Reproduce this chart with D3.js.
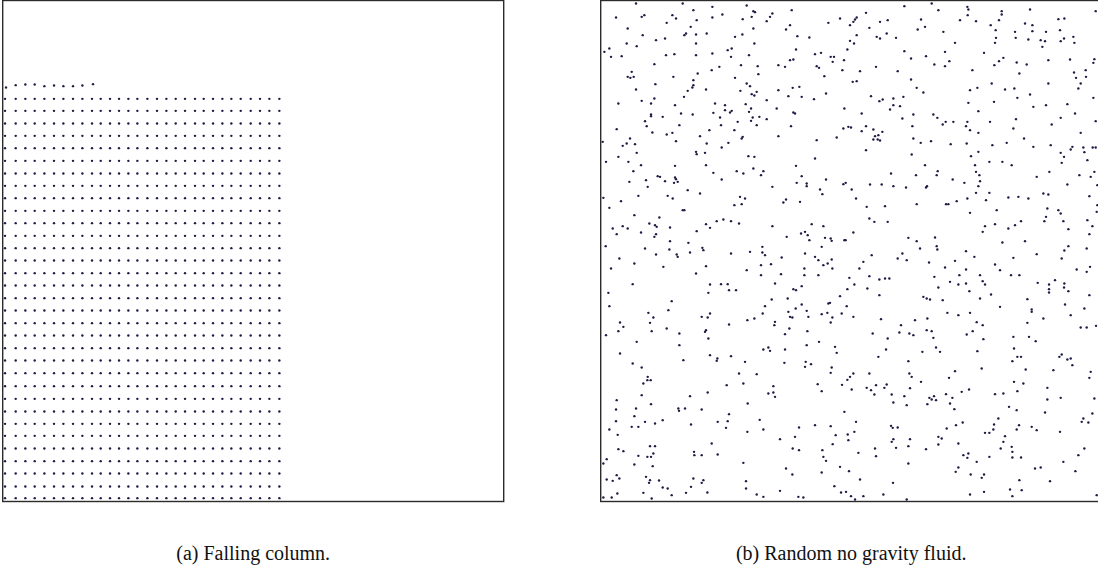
<!DOCTYPE html>
<html>
<head>
<meta charset="utf-8">
<script src="https://cdn.jsdelivr.net/npm/d3@7"></script>
<style>
  html, body { margin: 0; padding: 0; background: #ffffff; }
  svg { display: block; }
</style>
</head>
<body>
<svg id="chart" width="1098" height="574"></svg>
<script>
// ---------- DATA (box units: each simulation box is 0..1503 wide and tall, y measured from the top) ----------
const BOX = 1503;

// (a) Falling column: lattice of particles
const columnX = [7,39,68,96,125,154,182,211,239,268,294,322,349,377,404,434,463,491,519,547,577,603,631,659,686,714,744,772,800,830];
const columnRowY = [295,331,369,406,443,481,519,556,593,631,668,706,743,780,818,855,893,930,968,1005,1043,1080,1118,1157,1195,1233,1270,1306,1344,1382,1419,1458,1493];
// partial top row of the column
const topRowX = [10,39,68,96,125,154,182,211,239,271];
const topRowY = [261,254,252,252,257,255,257,257,255,251];

// (b) Random no gravity fluid: particle positions [x, y]
const fluidPts = [
[106,9],[246,9],[335,19],[438,15],[278,29],[458,32],[463,35],[573,29],[46,51],[123,49],[131,44],[215,44],[226,54],[288,59],[335,51],[365,42],[426,56],[453,49],[498,62],[508,49],[515,39],[718,54],[683,67],[198,67],[81,84],[270,79],[556,87],[568,74],[458,84],[126,104],[251,104],[256,99],[286,102],[318,99],[403,109],[425,102],[590,107],[626,111],[166,119],[193,114],[78,129],[108,137],[286,129],[461,129],[11,154],[26,144],[31,169],[63,167],[196,164],[221,161],[286,164],[335,159],[381,149],[393,144],[391,169],[445,164],[586,147],[643,161],[661,157],[690,169],[700,169],[740,147],[568,179],[578,177],[696,184],[730,179],[161,191],[333,209],[356,199],[421,194],[471,197],[533,194],[553,199],[648,197],[655,202],[725,209],[93,214],[81,229],[89,232],[99,229],[218,229],[291,219],[278,239],[403,232],[473,221],[671,227],[164,251],[278,254],[275,261],[438,249],[448,257],[106,267],[261,271],[316,267],[419,271],[468,274],[453,281],[461,285],[533,269],[576,262],[596,259],[676,279],[250,289],[563,287],[603,289],[640,296],[161,294],[123,301],[498,299],[53,309],[151,309],[223,314],[343,309],[373,314],[435,311],[451,324],[373,329],[388,336],[393,331],[338,337],[528,324],[731,324],[241,339],[276,342],[151,342],[151,347],[186,349],[358,351],[445,334],[456,351],[476,349],[498,356],[578,336],[583,339],[133,362],[411,364],[451,361],[138,377],[236,374],[361,374],[468,374],[571,377],[728,384],[743,379],[48,386],[155,396],[198,402],[215,397],[326,389],[401,389],[426,409],[423,414],[298,407],[533,407],[708,411],[88,414],[78,429],[103,431],[66,436],[6,424],[226,422],[383,427],[318,429],[648,419],[363,441],[108,457],[286,454],[288,461],[313,457],[443,467],[461,469],[643,474],[53,469],[16,484],[83,484],[121,494],[223,496],[316,494],[458,504],[586,496],
[911,17],[993,9],[1100,19],[1103,27],[1013,29],[1203,32],[1203,42],[1288,27],[1485,32],[796,37],[768,51],[763,57],[758,64],[748,74],[1101,44],[1078,59],[1126,62],[961,57],[838,64],[861,59],[1195,59],[1273,69],[1295,74],[1373,56],[1391,54],[806,82],[973,79],[951,87],[1170,74],[1185,89],[1295,92],[1336,94],[1378,89],[768,104],[828,109],[838,114],[858,99],[886,112],[1028,94],[1243,94],[1245,112],[1283,117],[1186,112],[1183,127],[1320,119],[1333,122],[1325,139],[1380,122],[1390,114],[1418,109],[1421,127],[748,121],[760,129],[1063,127],[1150,157],[911,152],[1033,154],[931,174],[976,167],[1046,182],[1001,192],[1033,197],[1181,194],[1195,182],[1208,172],[1248,186],[1278,192],[1343,179],[1408,177],[1481,176],[1478,187],[778,212],[826,199],[891,212],[1115,209],[1256,219],[1420,216],[1426,232],[1455,209],[1456,229],[931,237],[948,262],[968,276],[756,244],[768,242],[1108,269],[1130,262],[1173,249],[1213,267],[1241,264],[1250,292],[1288,282],[1343,249],[1440,249],[1433,264],[811,287],[836,302],[846,297],[878,294],[908,289],[878,314],[898,317],[868,327],[1103,307],[1180,304],[1298,319],[1336,314],[1400,311],[1478,292],[783,339],[905,354],[938,342],[998,342],[1010,352],[1133,332],[1246,356],[1380,352],[1423,339],[1485,362],[751,381],[783,392],[796,377],[818,387],[845,394],[823,407],[833,404],[818,417],[831,417],[838,420],[935,377],[1026,372],[1035,364],[1058,364],[1100,364],[1096,377],[1108,389],[1168,364],[1238,384],[1353,372],[1133,397],[938,414],[960,427],[991,422],[1050,431],[1098,429],[1175,434],[1218,427],[1270,414],[1298,439],[1350,434],[1440,397],[1380,457],[1390,469],[1410,447],[1415,439],[1448,441],[1451,455],[1476,441],[1485,441],[1460,479],[796,449],[933,462],[973,494],[1111,467],[1133,454],[1123,494],[1166,484],[1205,484],[1233,494],[1383,487],
[98,512],[338,517],[408,512],[428,519],[481,524],[488,512],[603,527],[171,527],[178,529],[223,531],[226,536],[136,539],[86,544],[193,542],[220,547],[231,544],[141,559],[261,569],[298,579],[363,537],[515,559],[588,547],[618,549],[618,557],[676,537],[728,551],[735,547],[658,567],[665,581],[8,592],[61,602],[113,586],[201,586],[216,594],[418,589],[433,594],[401,614],[423,611],[548,606],[556,597],[598,604],[26,622],[246,629],[251,629],[101,644],[176,651],[146,669],[163,674],[168,679],[66,677],[36,684],[81,684],[48,701],[121,696],[161,709],[166,701],[208,681],[288,692],[316,671],[328,682],[348,662],[368,657],[391,662],[415,669],[515,677],[558,709],[601,699],[613,694],[621,704],[626,719],[633,671],[668,677],[673,712],[690,714],[693,721],[731,719],[735,719],[15,737],[133,744],[208,722],[206,747],[263,727],[305,742],[308,749],[228,762],[231,769],[166,762],[268,756],[391,759],[448,754],[485,739],[485,756],[493,764],[543,771],[613,759],[643,769],[653,779],[663,739],[693,777],[681,789],[668,794],[56,774],[101,789],[31,804],[188,799],[316,797],[286,819],[438,809],[481,794],[511,791],[481,824],[541,821],[611,804],[611,824],[653,824],[695,804],[746,832],[96,851],[328,852],[361,851],[381,851],[385,869],[406,869],[523,849],[578,866],[586,869],[603,857],[740,866],[23,877],[323,877],[561,894],[513,897],[718,887],[26,917],[213,902],[203,929],[143,937],[158,951],[303,949],[321,951],[328,939],[385,972],[440,959],[461,954],[493,917],[486,939],[563,934],[568,949],[575,951],[585,924],[603,912],[618,931],[623,949],[663,941],[680,937],[683,909],[688,907],[695,951],[690,966],[723,939],[738,917],[58,966],[68,979],[148,967],[53,992],[153,992],[198,984],[236,999],[316,989],[313,994],[523,964],[521,974],[566,984],[620,992],[553,1001],[16,1004],[323,1014],
[871,519],[946,524],[1008,524],[1011,512],[1126,514],[1136,524],[1056,537],[1091,547],[1138,542],[1133,557],[979,557],[976,561],[916,561],[878,557],[843,552],[808,552],[753,567],[766,594],[798,619],[853,617],[948,611],[1036,611],[1043,611],[1068,602],[1100,594],[1126,577],[1166,577],[1156,599],[1223,591],[1253,589],[1283,594],[1328,579],[1343,582],[1308,529],[1346,514],[1400,552],[1436,524],[1470,529],[1481,514],[1490,554],[1466,587],[1490,614],[1488,634],[1188,629],[1108,637],[806,654],[821,664],[861,664],[758,696],[923,712],[948,722],[958,744],[1003,711],[1008,737],[1010,747],[1153,677],[1146,694],[1183,671],[1223,684],[1243,674],[1261,662],[1273,722],[1205,726],[1331,662],[1336,649],[1340,624],[1373,629],[1380,639],[1388,662],[1403,686],[1460,659],[1475,677],[1466,701],[1458,744],[1403,737],[1391,750],[1383,774],[1308,761],[1238,772],[1096,752],[1121,769],[1063,781],[1033,801],[985,786],[918,779],[905,759],[891,774],[813,764],[788,784],[776,804],[806,827],[836,837],[853,834],[866,834],[761,852],[800,864],[836,884],[1001,829],[1013,861],[1048,844],[1073,852],[1076,824],[1096,807],[1096,849],[1106,872],[1138,824],[1146,842],[1153,852],[1171,882],[1183,792],[1198,809],[1231,824],[1256,824],[1311,847],[1345,852],[1345,866],[1345,876],[1363,839],[1391,849],[1390,861],[1403,872],[1428,807],[1458,814],[1468,799],[1466,884],[968,889],[978,894],[988,897],[1026,899],[1138,894],[1198,919],[1280,896],[1293,927],[1293,934],[1328,954],[1393,912],[1410,944],[1451,924],[758,949],[841,956],[901,974],[943,959],[980,954],[1040,937],[1073,944],[1108,937],[1128,965],[1146,974],[1280,967],[896,996],[926,999],[938,1004],[978,989],[993,992],[998,1012],[1098,1002],[1116,992],[1148,1016],[1238,1009],[1285,1009],[816,999],[861,1014],[1440,981],[1458,981],[1486,976],
[108,1024],[236,1034],[618,1034],[655,1024],[703,1039],[708,1057],[488,1047],[503,1041],[508,1051],[553,1047],[58,1059],[328,1064],[350,1074],[348,1081],[391,1067],[248,1079],[433,1084],[551,1087],[615,1084],[613,1099],[631,1091],[96,1089],[123,1101],[693,1101],[690,1117],[740,1138],[724,1153],[651,1151],[663,1172],[415,1119],[468,1121],[141,1129],[140,1139],[150,1139],[128,1149],[378,1154],[428,1149],[518,1157],[503,1179],[518,1176],[523,1189],[123,1184],[321,1176],[48,1199],[151,1211],[268,1187],[441,1209],[46,1227],[106,1224],[233,1224],[235,1231],[253,1224],[303,1227],[101,1247],[46,1262],[133,1264],[163,1269],[186,1259],[385,1241],[477,1258],[381,1262],[351,1264],[271,1272],[93,1279],[113,1279],[376,1282],[488,1287],[26,1287],[51,1303],[440,1294],[538,1316],[583,1309],[595,1281],[643,1274],[690,1277],[705,1304],[741,1302],[743,1319],[731,1234],[333,1329],[148,1337],[163,1337],[53,1346],[68,1352],[113,1366],[140,1369],[151,1369],[158,1359],[280,1354],[281,1364],[303,1364],[351,1362],[595,1349],[576,1344],[665,1349],[668,1369],[676,1381],[696,1331],[8,1389],[18,1376],[101,1392],[156,1397],[428,1387],[556,1404],[575,1422],[663,1416],[718,1399],[745,1412],[18,1437],[36,1441],[48,1424],[56,1434],[136,1429],[145,1447],[148,1439],[175,1440],[278,1434],[303,1447],[308,1439],[186,1461],[201,1464],[213,1484],[256,1477],[271,1459],[320,1476],[436,1442],[436,1464],[468,1482],[488,1489],[538,1471],[593,1489],[608,1491],[701,1457],[721,1476],[736,1474],[50,1479],[128,1477],[8,1491],[33,1491],[153,1494],
[856,1047],[833,1069],[1006,1041],[1018,1054],[965,1054],[923,1082],[1305,1022],[1240,1044],[1235,1082],[1250,1069],[1261,1069],[1130,1052],[1376,1069],[1383,1062],[1400,1077],[1410,1074],[1415,1094],[1275,1107],[1143,1104],[1063,1112],[1045,1132],[961,1144],[926,1119],[933,1129],[758,1119],[748,1129],[806,1119],[753,1167],[798,1162],[811,1169],[821,1182],[826,1154],[851,1162],[858,1152],[873,1182],[878,1206],[911,1187],[918,1214],[928,1163],[980,1211],[986,1192],[993,1197],[1000,1187],[1006,1199],[1036,1181],[1048,1209],[1055,1192],[1061,1226],[1083,1174],[1105,1167],[1183,1181],[1208,1179],[1240,1144],[1268,1149],[1250,1172],[1225,1219],[1248,1229],[1358,1109],[1470,1114],[1466,1132],[1481,1194],[1475,1239],[1380,1192],[1340,1162],[1340,1197],[1333,1236],[766,1264],[761,1294],[871,1276],[876,1282],[891,1281],[1038,1284],[1066,1274],[1086,1266],[1193,1254],[1180,1272],[1178,1287],[1153,1297],[1166,1297],[1213,1307],[1208,1324],[1200,1344],[1233,1339],[1235,1354],[1235,1371],[1261,1371],[1248,1287],[1255,1274],[1293,1279],[1308,1289],[1378,1294],[1448,1254],[1443,1264],[1463,1266],[878,1316],[873,1324],[886,1342],[823,1344],[826,1367],[928,1316],[923,1337],[1013,1309],[1023,1314],[1013,1332],[976,1346],[1073,1329],[1088,1364],[1103,1359],[1100,1372],[1128,1384],[1166,1369],[1303,1404],[1320,1401],[1388,1384],[1433,1364],[1451,1344],[1424,1412],[773,1357],[923,1389],[1073,1401],[1065,1414],[1110,1422],[1143,1432],[1150,1422],[778,1437],[877,1447],[1256,1439],[1348,1442],[1228,1467],[1263,1469],[1150,1474],[1108,1482],[1235,1487],[848,1482],[751,1487],[788,1487],[763,1497],[918,1497],[1488,1484]
];

const captions = ["(a) Falling column.", "(b) Random no gravity fluid."];

// ---------- LAYOUT ----------
const svg = d3.select("#chart");
const panels = [
  { left: 2.7, top: 0.5, size: 501 },
  { left: 600.7, top: 0.5, size: 501 }
];
const dotColor = "#1d1c45";
const dotR = 1.2;

function makeScales(p) {
  return {
    x: d3.scaleLinear().domain([0, BOX]).range([p.left, p.left + p.size]),
    y: d3.scaleLinear().domain([0, BOX]).range([p.top, p.top + p.size])
  };
}

const sa = makeScales(panels[0]);
const sb = makeScales(panels[1]);

// ----- panel (a) -----
const latticePts = [];
columnRowY.forEach(y => columnX.forEach(x => latticePts.push([x, y])));
topRowX.forEach((x, i) => latticePts.push([x, topRowY[i]]));

const ga = svg.append("g");
ga.selectAll("circle").data(latticePts).join("circle")
  .attr("cx", d => sa.x(d[0])).attr("cy", d => sa.y(d[1]))
  .attr("r", dotR).attr("fill", dotColor);

// ----- panel (b) -----
const gb = svg.append("g");
gb.selectAll("circle").data(fluidPts).join("circle")
  .attr("cx", d => sb.x(d[0])).attr("cy", d => sb.y(d[1]))
  .attr("r", dotR).attr("fill", dotColor);

// frames
[sa, sb].forEach(s => {
  svg.append("rect")
    .attr("x", s.x(0)).attr("y", s.y(0))
    .attr("width", s.x(BOX) - s.x(0)).attr("height", s.y(BOX) - s.y(0))
    .attr("fill", "none").attr("stroke", "#2b2b2b").attr("stroke-width", 1.4);
});

// captions
[sa, sb].forEach((s, i) => {
  svg.append("text")
    .attr("x", (s.x(0) + s.x(BOX)) / 2)
    .attr("y", 560)
    .attr("text-anchor", "middle")
    .attr("font-family", "'Liberation Serif', 'DejaVu Serif', serif")
    .attr("font-size", 20)
    .attr("fill", "#111")
    .text(captions[i]);
});
</script>
</body>
</html>
